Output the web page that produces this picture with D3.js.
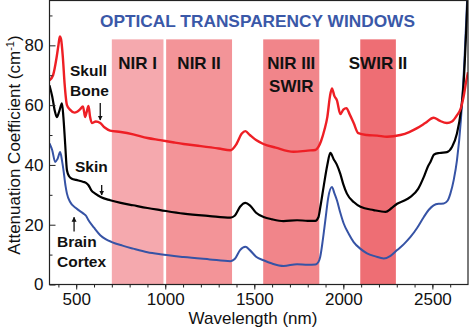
<!DOCTYPE html>
<html>
<head>
<meta charset="utf-8">
<script src="https://cdn.jsdelivr.net/npm/d3@7"></script>
<style>
  body { margin: 0; background: #fff; }
  text { font-family: "Liberation Sans", Arial, sans-serif; }
</style>
</head>
<body>
<div id="chart"></div>
<script>
// Attenuation spectra of three tissues, wavelength in nm
var skullWl = [350, 370, 390, 400, 408, 415, 425, 435, 448, 465, 490, 505, 520, 538, 550, 560, 569, 578, 588, 610, 635, 660, 690, 750, 820, 900, 972, 1050, 1103, 1200, 1300, 1366, 1400, 1430, 1450, 1475, 1510, 1551, 1620, 1720, 1800, 1843, 1860, 1875, 1895, 1910, 1925, 1936, 1950, 1964, 1983, 2000, 2017, 2035, 2058, 2084, 2133, 2190, 2245, 2320, 2370, 2414, 2460, 2507, 2540, 2582, 2610, 2638, 2660, 2675, 2690, 2700];
var skullVal = [68.3, 70, 76, 80, 83, 82, 76, 67, 60, 58.5, 57.5, 57.8, 58.5, 59.6, 56, 58, 59.7, 56, 54, 54.5, 54, 52.5, 51.5, 51, 50.2, 49, 48.3, 47.5, 47, 46.3, 45.5, 44.9, 47, 50.5, 51.3, 50, 48.3, 47, 45.8, 44.4, 44.8, 45, 46, 48, 52, 56, 63, 65.6, 63, 61.6, 57, 58.5, 59, 57, 54, 50.6, 50, 49.8, 49.4, 50, 51, 52.3, 54, 55.8, 54.8, 54, 54.5, 56.6, 59, 62.7, 68, 71];

var skinWl = [350, 365, 380, 391, 405, 420, 428, 438, 448, 460, 476, 500, 541, 555, 569, 585, 607, 640, 691, 750, 820, 900, 972, 1103, 1250, 1366, 1390, 1420, 1450, 1475, 1510, 1552, 1600, 1664, 1740, 1800, 1843, 1860, 1871, 1890, 1910, 1927, 1945, 1964, 1983, 2000, 2020, 2060, 2096, 2170, 2237, 2270, 2302, 2340, 2377, 2420, 2452, 2475, 2489, 2510, 2540, 2582, 2610, 2638, 2660, 2675, 2690, 2697];
var skinVal = [66.6, 63, 58, 56, 58, 60.6, 56, 47, 38.2, 36.2, 35.4, 35, 34.3, 34, 33.2, 31.5, 30.4, 29.2, 28.2, 27.3, 26.5, 25.6, 24.9, 23.7, 22.9, 22.4, 23, 26, 27.3, 26.5, 24, 22.6, 21.8, 21.2, 21.5, 21.3, 21.3, 22.5, 26, 33, 40, 44, 42, 40, 37, 33.5, 30.4, 27.5, 26, 24.9, 24.3, 25.5, 27, 28, 29.3, 32, 36, 39.5, 41, 43.5, 44, 44.3, 46, 50.5, 58, 67, 85, 95];

var cortexWl = [350, 365, 382, 395, 410, 420, 429, 440, 448, 466, 500, 541, 555, 569, 600, 635, 665, 700, 760, 820, 900, 972, 1103, 1250, 1366, 1390, 1420, 1450, 1475, 1510, 1552, 1600, 1664, 1740, 1800, 1843, 1860, 1870, 1885, 1899, 1915, 1936, 1950, 1964, 1983, 2002, 2030, 2058, 2095, 2133, 2180, 2227, 2265, 2302, 2340, 2377, 2415, 2452, 2480, 2507, 2535, 2564, 2585, 2601, 2620, 2638, 2660, 2680, 2695];
var cortexVal = [47.2, 45, 41, 42, 44.3, 41.5, 38, 33, 30.4, 27.6, 25.5, 23.7, 23, 21.5, 19, 16.5, 15.2, 14.2, 13, 12, 10.8, 10.1, 9.2, 8.4, 7.8, 8.5, 11.5, 12.6, 11.5, 9.3, 8.1, 7, 6.2, 6.8, 6.6, 6.7, 7.5, 9.2, 15, 21.5, 29, 32.6, 30.5, 28.2, 24, 20.4, 17, 14.2, 12, 10.4, 9.4, 8.7, 9.6, 11.5, 13.5, 15.9, 19, 22.6, 25, 26.5, 27, 27.1, 28, 30.4, 35, 41.5, 55, 75, 95];

// Transparency windows
var windowNames = [["NIR I"], ["NIR II"], ["NIR III", "SWIR"], ["SWIR II"]];
var windowStart = [700, 1005, 1550, 2095];
var windowEnd = [990, 1375, 1865, 2295];
var windowTop = 82;
var windowColors = ["#f5a9ae", "#f39498", "#f1858a", "#ee6e74"];

var xMajor = [500, 1000, 1500, 2000, 2500];
var yMajor = [0, 20, 40, 60, 80];

var svgWidth = 469;
var svgHeight = 331;
var margin = { top: 0.5, right: 1, bottom: 46.5, left: 49.5 };
var width = svgWidth - margin.left - margin.right;
var height = svgHeight - margin.top - margin.bottom;

var svg = d3.select("#chart")
  .append("svg")
  .attr("width", svgWidth)
  .attr("height", svgHeight);

var chartGroup = svg.append("g")
  .attr("transform", `translate(${margin.left}, ${margin.top})`);

var xScale = d3.scaleLinear().domain([350, 2700]).range([0, width]);
var yScale = d3.scaleLinear().domain([0, 95]).range([height, 0]);

svg.append("defs").append("clipPath")
  .attr("id", "plotClip")
  .append("rect")
  .attr("width", width)
  .attr("height", height);

// window bands
var windows = windowNames.map((n, i) => ({ name: n, x0: windowStart[i], x1: windowEnd[i], color: windowColors[i] }));

chartGroup.selectAll(".band")
  .data(windows)
  .enter()
  .append("rect")
  .attr("class", "band")
  .attr("x", d => xScale(d.x0))
  .attr("width", d => xScale(d.x1) - xScale(d.x0))
  .attr("y", yScale(windowTop))
  .attr("height", yScale(0) - yScale(windowTop))
  .attr("fill", d => d.color);

var bandLabels = chartGroup.selectAll(".bandLabel")
  .data(windows)
  .enter()
  .append("text")
  .attr("class", "bandLabel")
  .attr("x", d => xScale((d.x0 + d.x1) / 2))
  .attr("y", 68.5)
  .style("text-anchor", "middle")
  .style("font-size", "17px")
  .style("font-weight", "bold")
  .style("fill", "#111");

bandLabels.selectAll("tspan")
  .data(d => d.name.map((t, i) => ({ t: t, i: i, x: xScale((d.x0 + d.x1) / 2) })))
  .enter()
  .append("tspan")
  .attr("x", d => d.x)
  .attr("dy", d => d.i ? 22.5 : 0)
  .text(d => d.t);

// spectra
var line = d3.line()
  .x(d => xScale(d[0]))
  .y(d => yScale(d[1]))
  .curve(d3.curveMonotoneX);

var spectra = [
  { wl: cortexWl, val: cortexVal, color: "#3653a5", w: 2 },
  { wl: skinWl, val: skinVal, color: "#000000", w: 2.2 },
  { wl: skullWl, val: skullVal, color: "#ee1f25", w: 2.4 }
];

chartGroup.append("g")
  .attr("clip-path", "url(#plotClip)")
  .selectAll("path")
  .data(spectra)
  .enter()
  .append("path")
  .attr("d", d => line(d.wl.map((w, i) => [w, d.val[i]])))
  .attr("fill", "none")
  .attr("stroke", d => d.color)
  .attr("stroke-width", d => d.w)
  .attr("stroke-linejoin", "round");

// axes
var bottomAxis = d3.axisBottom(xScale).tickValues(xMajor).tickSize(5).tickPadding(3).tickFormat(d3.format("d"));
var bottomMinor = d3.axisBottom(xScale).tickValues(d3.range(400, 2700, 100)).tickSize(3).tickFormat("");
var leftAxis = d3.axisLeft(yScale).tickValues(yMajor).tickSizeInner(-6).tickSizeOuter(0).tickPadding(6);
var leftMinor = d3.axisLeft(yScale).tickValues([10, 30, 50, 70, 90]).tickSizeInner(-3).tickSizeOuter(0).tickFormat("");

chartGroup.append("g").attr("transform", `translate(0, ${height})`).call(bottomMinor);
var xAxisG = chartGroup.append("g").attr("transform", `translate(0, ${height})`).call(bottomAxis);
chartGroup.append("g").call(leftMinor);
var yAxisG = chartGroup.append("g").call(leftAxis);

[xAxisG, yAxisG].forEach(g => {
  g.selectAll("text")
    .style("font-size", "17px")
    .style("font-family", "'Liberation Sans', Arial, sans-serif")
    .style("fill", "#111");
});
chartGroup.selectAll(".domain").remove();
chartGroup.selectAll(".tick line").attr("stroke", "#222");

// frame
chartGroup.append("rect")
  .attr("width", width)
  .attr("height", height)
  .attr("fill", "none")
  .attr("stroke", "#222")
  .attr("stroke-width", 1.2);

// title
chartGroup.append("text")
  .attr("x", 257.5 - margin.left)
  .attr("y", 26)
  .style("text-anchor", "middle")
  .style("font-size", "17.3px")
  .style("font-weight", "bold")
  .style("fill", "#3a58a8")
  .text("OPTICAL TRANSPARENCY WINDOWS");

// tissue labels with arrows
var notes = [
  { lines: ["Skull", "Bone"], x: 70, y: 76 },
  { lines: ["Skin"], x: 75, y: 171.5 },
  { lines: ["Brain", "Cortex"], x: 57, y: 247 }
];

notes.forEach(n => {
  var t = svg.append("text")
    .style("font-size", "15.5px")
    .style("font-weight", "bold")
    .style("fill", "#111");
  n.lines.forEach((s, i) => {
    t.append("tspan").attr("x", n.x).attr("y", n.y + i * 20).text(s);
  });
});

svg.append("defs").append("marker")
  .attr("id", "arrowHead")
  .attr("viewBox", "0 0 10 10")
  .attr("refX", 9)
  .attr("refY", 5)
  .attr("markerWidth", 5)
  .attr("markerHeight", 6)
  .attr("markerUnits", "userSpaceOnUse")
  .attr("orient", "auto")
  .append("path")
  .attr("d", "M0,0 L10,5 L0,10 Z")
  .attr("fill", "#111");

var arrows = [
  { wl: 635, from: 60.7, to: 55 },
  { wl: 643, from: 33.3, to: 29.9 },
  { wl: 488, from: 17.7, to: 22.5 }
];

chartGroup.selectAll(".arrow")
  .data(arrows)
  .enter()
  .append("line")
  .attr("class", "arrow")
  .attr("x1", d => xScale(d.wl))
  .attr("x2", d => xScale(d.wl))
  .attr("y1", d => yScale(d.from))
  .attr("y2", d => yScale(d.to))
  .attr("stroke", "#111")
  .attr("stroke-width", 1.3)
  .attr("marker-end", "url(#arrowHead)");

// axis titles
svg.append("text")
  .attr("x", 253)
  .attr("y", 324)
  .style("text-anchor", "middle")
  .style("font-size", "17px")
  .style("fill", "#111")
  .text("Wavelength (nm)");

var yTitle = svg.append("text")
  .attr("transform", "translate(20, 145) rotate(-90)")
  .style("text-anchor", "middle")
  .style("font-size", "17px")
  .style("fill", "#111");
yTitle.append("tspan").text("Attenuation Coefficient (cm");
yTitle.append("tspan").attr("dy", -6).style("font-size", "11px").text("-1");
yTitle.append("tspan").attr("dy", 6).text(")");
</script>
</body>
</html>
